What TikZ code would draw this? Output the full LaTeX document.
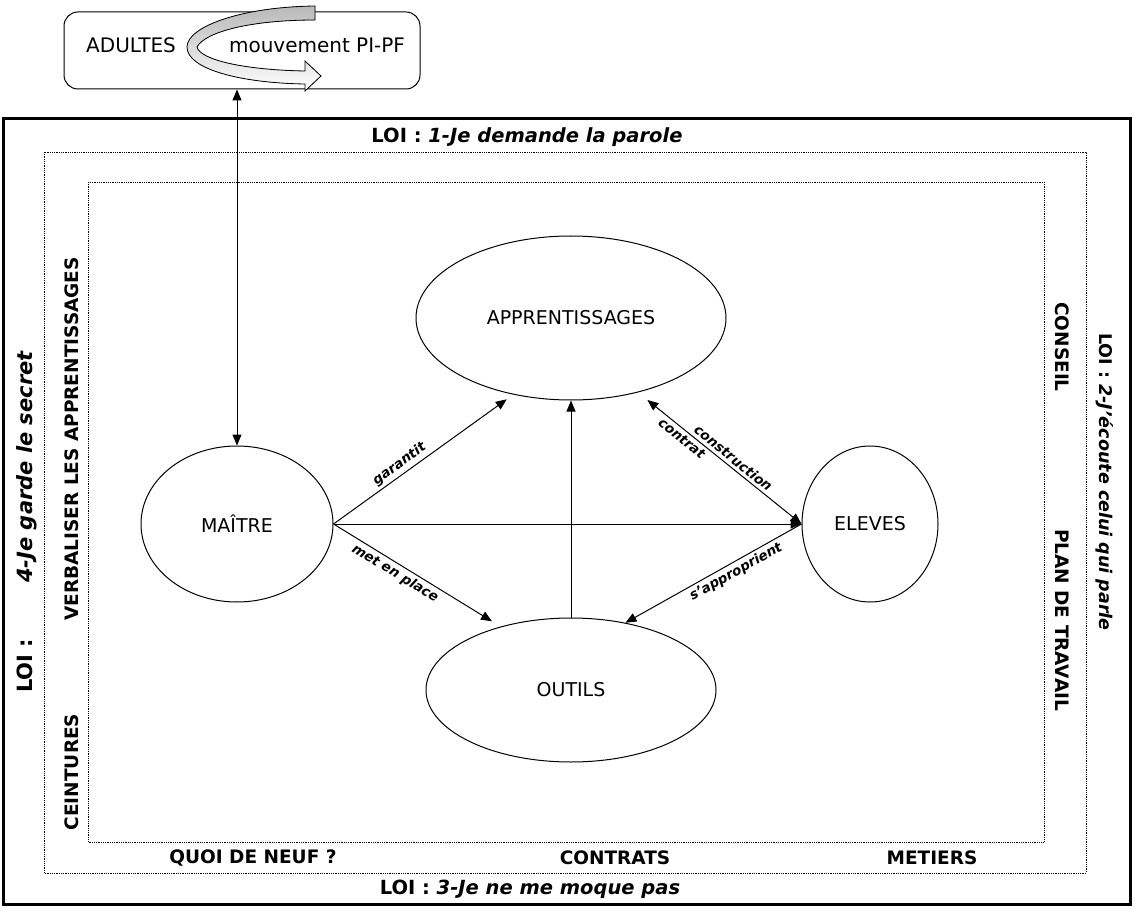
\documentclass[tikz,border=0pt]{standalone}
\usepackage{fontspec}
\setmainfont{DejaVu Sans}
\usetikzlibrary{arrows.meta,shapes.geometric}
\tikzset{
  ell/.style={draw, ellipse, line width=1pt, inner sep=0pt, font=\fontsize{19}{20}\selectfont},
  tri/.style={-{Triangle[length=11pt,width=9pt]}},
  rtri/.style={{Triangle[length=11pt,width=9pt]}-},
  dtri/.style={{Triangle[length=11pt,width=9pt]}-{Triangle[length=11pt,width=9pt]}},
  conn/.style={line width=1pt},
  lbl/.style={font=\fontsize{13.5}{14}\selectfont\bfseries\itshape, inner sep=3pt},
  side/.style={font=\fontsize{18.5}{20}\selectfont\bfseries, inner sep=0pt},
  loi/.style={font=\fontsize{19.5}{22}\selectfont\bfseries, inner sep=0pt},
  frame/.style={line width=0.8pt, densely dotted},
  boxtext/.style={font=\fontsize{20}{22}\selectfont, inner sep=0pt},
}
\begin{document}
\begin{tikzpicture}[x=1pt,y=-1pt]
\useasboundingbox (0,0) rectangle (1136,920);
% frames
\draw[line width=3pt] (3,119) rectangle (1130,904);
\draw[frame] (44,152) rectangle (1086,873);
\draw[frame] (88,182) rectangle (1044,842);
% adultes box
\node[draw, rounded corners=14pt, line width=1pt, minimum width=356pt, minimum height=77pt, inner sep=0pt] (adu) at (242,50.5) {};
\filldraw[line width=0.8pt, top color=gray!55, bottom color=white, draw=black]
  (315,6) .. controls (240,7) and (187,27) .. (187,47)
  .. controls (187,69) and (240,83) .. (305,84)
  -- (305,91) -- (321,76) -- (305,61) -- (305,71)
  .. controls (245,70) and (200,60) .. (197,47)
  .. controls (205,32) and (250,20) .. (315,20) -- cycle;
\node[boxtext] (adt) at (131,45) {ADULTES};
\node[boxtext] (mvt) at (317,45) {mouvement PI-PF};
% ellipses
\node[ell, minimum width=310pt, minimum height=164pt] (app) at (571,318) {APPRENTISSAGES};
\node[ell, minimum width=192pt, minimum height=156pt] (mai) at (237,524) {MAÎTRE};
\node[ell, minimum width=136pt, minimum height=156pt] (elv) at (870,524) {ELEVES};
\node[ell, minimum width=290pt, minimum height=144pt] (out) at (571,690) {OUTILS};
% connectors
\draw[conn, dtri] (adu.south -| mai.north) -- (mai.north);
\draw[conn, tri, shorten >=8pt] (mai.east) -- node[lbl, sloped, above, pos=0.4] {garantit} (app.233);
\draw[conn, tri] (mai.east) -- (elv.west);
\draw[conn, tri, shorten >=10pt] (mai.east) -- node[lbl, sloped, below, pos=0.4] {met en place} (out.138);
\draw[conn, tri] (out.north) -- (app.south);
\draw[conn, dtri, shorten <=12pt] (app.312) -- node[lbl, sloped, above, pos=0.55] {construction} node[lbl, sloped, below, pos=0.3] {contrat} (elv.west);
\draw[conn, rtri] (out.51) -- node[lbl, sloped, below, pos=0.6] {s'approprient} (elv.west);
% texts
\node[loi] (l1) at (527,137) {LOI : {\itshape 1-Je demande la parole}};
\node[loi] (l3) at (530,889) {LOI : {\itshape 3-Je ne me moque pas}};
\node[loi, font=\fontsize{21}{24}\selectfont\bfseries, rotate=90] (l4) at (27,522) {LOI :\hspace{56pt}{\itshape 4-Je garde le secret}};
\node[loi, font=\fontsize{17.5}{20}\selectfont\bfseries, rotate=-90] (l2) at (1105,482) {LOI : {\itshape 2-J'écoute celui qui parle}};
\node[side, rotate=90] (verb) at (72,439) {VERBALISER LES APPRENTISSAGES};
\node[side, rotate=90] (cein) at (72,772) {CEINTURES};
\node[side, rotate=-90] (cons) at (1062,347) {CONSEIL};
\node[side, rotate=-90] (plan) at (1062,620) {PLAN DE TRAVAIL};
\node[side] (quoi) at (253,858) {QUOI DE NEUF ?};
\node[side] (contr) at (615,858) {CONTRATS};
\node[side] (met) at (932,858) {METIERS};
\end{tikzpicture}
\end{document}
